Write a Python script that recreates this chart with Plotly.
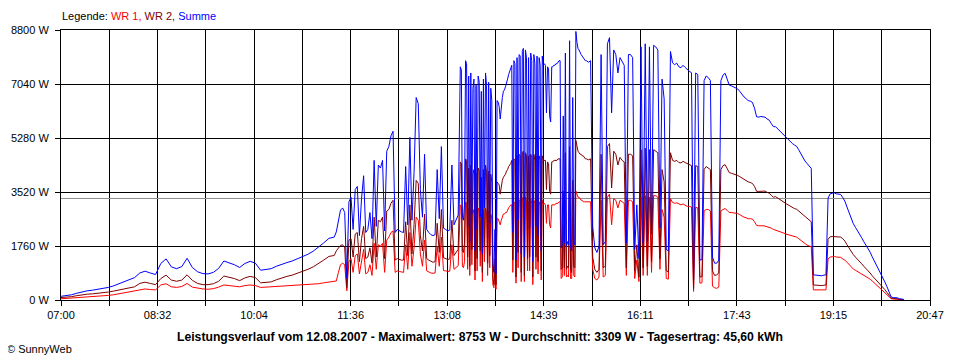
import plotly.graph_objects as go

# ---------------- chart values ----------------
CHART_DATE = "12.08.2007"
MAX_WATT = 8753
AVG_WATT = 3309
DAY_YIELD = "45,60"

X_LABELS = ["07:00", "08:32", "10:04", "11:36", "13:08", "14:39",
            "16:11", "17:43", "19:15", "20:47"]
Y_TICKS = [0, 1760, 3520, 5280, 7040, 8800]

SERIES_NAMES = ["WR 1", "WR 2", "Summe"]
SERIES_COLORS = ["#FF0000", "#800000", "#0000FF"]

# morning, 5-minute readings from 07:00
WR1_0700 = [40, 50, 60, 80, 100, 110, 120, 130, 140, 150, 170, 200, 230, 270, 300,
            340, 360, 340, 330, 490, 530, 430, 410, 440, 540, 420, 380, 360, 350, 370,
            420, 490, 470, 450, 430, 470, 490, 470, 410, 420, 430, 440, 450, 450, 460,
            470, 480, 490, 510, 530, 560, 590]
WR2_0700 = [80, 90, 110, 140, 170, 190, 200, 215, 230, 260, 290, 330, 370, 400, 430,
            540, 580, 540, 500, 700, 810, 650, 610, 650, 820, 640, 540, 500, 500, 530,
            610, 780, 740, 700, 630, 720, 770, 730, 560, 570, 590, 660, 720, 770, 810,
            870, 940, 1000, 1080, 1180, 1300, 1420]

# 2-minute readings
WR1_1120 = [600, 620, 900, 1150, 1200, 1150, 300, 1250, 1350, 900, 1450, 1500, 850, 1300, 1650,
            850, 900, 1150, 800, 1850, 1000, 1800, 1750, 1850, 900, 1950, 2050, 2200, 2250, 900]
WR2_1120 = [1450, 1600, 1700, 1780, 1800, 1700, 400, 1950, 2000, 1400, 2150, 2200, 1250, 2000, 2400,
            1350, 1400, 1700, 1200, 2700, 1400, 2600, 2550, 2700, 1350, 2900, 2950, 3150, 3250, 1300]

WR1_1220 = [950, 930, 920, 900, 1800, 1000, 2200, 1100, 1700, 2700, 2600, 1500, 1100, 1950, 950,
            900, 880, 870, 880, 1750, 1100, 2050, 960, 950, 930, 940, 1800, 1000, 1050, 1120]
WR2_1220 = [1350, 1320, 1300, 1300, 2550, 1450, 3100, 1500, 2450, 3900, 3800, 2100, 1600, 2800, 1350,
            1300, 1250, 1230, 1250, 2500, 1550, 2950, 1380, 1350, 1320, 1340, 2600, 1450, 1550, 1650]

# 1-minute readings (densest part of the day)
WR1_1320 = [3100, 3050, 1100, 1050, 1250, 3200, 3150, 1000, 3000, 800,
            3000, 1150, 2800, 2950, 650, 2850, 950, 3000, 2900, 1100,
            2800, 600, 2950, 1250, 3000, 2850, 800, 2900, 1050, 2800,
            2650, 500, 400, 950, 350, 2650, 2650, 2550, 2450, 2600,
            2700, 2800, 2800, 2850, 2850, 2950, 3000, 3050, 3100, 3100,
            900, 3200, 3150, 550, 3200, 1050, 3250, 3250, 600, 3300]
WR2_1320 = [4500, 4450, 1600, 1550, 1850, 4600, 4550, 1400, 4300, 1100,
            4400, 1650, 4100, 4250, 950, 4150, 1350, 4300, 4200, 1600,
            4000, 900, 4250, 1750, 4400, 4150, 1200, 4200, 1450, 4100,
            3850, 700, 500, 1350, 500, 3850, 3800, 3750, 3450, 3750,
            3900, 4000, 4050, 4100, 4200, 4250, 4350, 4400, 4450, 4550,
            1300, 4600, 4550, 750, 4700, 1550, 4750, 4700, 900, 4800]

WR1_1420 = [3350, 600, 3350, 3200, 950, 3200, 950, 3300, 3150, 500,
            3250, 3150, 1000, 3250, 850, 3200, 3100, 650, 3250, 3100,
            3150, 3100, 2500, 3100, 3100, 2450, 2350, 3100, 3100, 3100,
            3100, 3150, 3150, 3150, 3200, 3200, 700, 750, 2450, 800,
            3250, 750, 800, 750, 3450, 700, 700, 2700, 800, 750,
            3553, 3450, 3350, 3350, 3300, 3250, 3250, 3200, 3200, 3200]
WR2_1420 = [4850, 800, 4800, 4700, 1350, 4700, 1400, 4750, 4650, 750,
            4750, 4550, 1400, 4700, 1250, 4700, 4550, 950, 4700, 4550,
            4550, 4550, 3600, 4500, 4450, 3550, 3450, 4500, 4500, 4550,
            4550, 4550, 4550, 4600, 4600, 4600, 1000, 1050, 3550, 1050,
            4800, 1000, 1100, 1050, 5000, 1000, 900, 3900, 1100, 1050,
            5200, 4950, 4850, 4800, 4750, 4750, 4700, 4700, 4650, 4600]

# 2-minute readings
WR1_1520 = [3200, 3180, 3200, 1000, 700, 650, 750, 3250, 750, 800, 3350, 3450, 2450, 3300, 3250,
            3000, 3250, 3200, 3150, 800, 3250, 3250, 3200, 700, 1300, 600, 3350, 800, 3400, 800]
WR2_1520 = [4600, 4570, 4600, 1400, 1000, 900, 1000, 4750, 1050, 1100, 5000, 5100, 3650, 4850, 4750,
            4400, 4650, 4550, 4500, 1050, 4750, 4750, 4700, 950, 1800, 750, 4900, 1050, 4950, 1100]

WR1_1620 = [3350, 900, 3400, 3400, 3350, 1000, 2950, 2700, 700, 680, 3300, 3180, 3150, 3170, 3120,
            3100, 3130, 3100, 3050, 3050, 3030, 280, 3020, 3000, 550, 560, 2900, 2950, 2950, 2900]
WR2_1620 = [4900, 1250, 4900, 4850, 4800, 1350, 4250, 3850, 950, 920, 4800, 4550, 4520, 4550, 4480,
            4470, 4520, 4480, 4450, 4400, 4380, 370, 4380, 4350, 750, 760, 4250, 4350, 4300, 4250]

WR1_1720 = [450, 400, 380, 420, 2900, 2950, 2980, 2920, 2850, 2850, 2840, 2830, 2820, 2780, 2730,
            2700, 2680, 2650, 2650, 2640, 2550, 2430, 2420, 2430, 2420, 2410, 2390, 2380, 2340, 2300]
WR2_1720 = [950, 800, 820, 880, 4250, 4380, 4410, 4250, 4150, 4130, 4110, 4090, 4060, 4020, 3970,
            3920, 3880, 3850, 3830, 3800, 3700, 3540, 3540, 3550, 3550, 3550, 3510, 3480, 3410, 3350]

WR1_1820 = [2280, 2260, 2240, 2210, 2180, 2150, 2130, 2110, 2090, 2070, 2050, 2000, 1940, 1880, 1830,
            1790, 1760, 1740, 330, 330, 320, 330, 320, 330, 330, 1340, 1400, 1410, 1420, 1400]
WR2_1820 = [3370, 3320, 3260, 3220, 3190, 3140, 3100, 3060, 3010, 2980, 2960, 2900, 2830, 2760, 2700,
            2660, 2600, 2550, 490, 480, 480, 480, 470, 480, 490, 1980, 2060, 2070, 2070, 2060]

WR1_1920 = [1400, 1390, 1340, 1300, 1230, 1150, 1080, 1010, 970, 930, 900, 850, 800, 760, 730,
            680, 620, 560, 500, 440, 380, 320, 250, 190, 110, 40, 30, 30, 30, 15, 10, 10]
WR2_1920 = [2060, 2050, 2000, 1920, 1800, 1680, 1580, 1480, 1400, 1330, 1280, 1180, 1100, 1030, 980,
            880, 790, 720, 640, 570, 490, 420, 340, 250, 150, 60, 50, 50, 40, 25, 20, 10]

# (start time, minutes between readings, WR 1, WR 2)
BLOCKS = [
    ("07:00", 5, WR1_0700, WR2_0700),
    ("11:20", 2, WR1_1120, WR2_1120),
    ("12:20", 2, WR1_1220, WR2_1220),
    ("13:20", 1, WR1_1320, WR2_1320),
    ("14:20", 1, WR1_1420, WR2_1420),
    ("15:20", 2, WR1_1520, WR2_1520),
    ("16:20", 2, WR1_1620, WR2_1620),
    ("17:20", 2, WR1_1720, WR2_1720),
    ("18:20", 2, WR1_1820, WR2_1820),
    ("19:20", 2, WR1_1920, WR2_1920),
]


def to_min(s):
    h, m = s.split(":")
    return int(h) * 60 + int(m)


times, wr1, wr2 = [], [], []
for start, step, a, b in BLOCKS:
    assert len(a) == len(b), start
    t0 = to_min(start)
    for i, (v1, v2) in enumerate(zip(a, b)):
        times.append(t0 + i * step)
        wr1.append(v1)
        wr2.append(v2)
summe = [a + b for a, b in zip(wr1, wr2)]

# ---------------- figure ----------------
# the page body has an 8 px default margin, so the figure is laid out
# in page coordinates shifted by that amount
BODY = 8
W, H = 960 - BODY, 360 - BODY
PLOT_L, PLOT_R, PLOT_T, PLOT_B = 61, 930, 30, 300   # page pixels
ML, MT = PLOT_L - BODY, PLOT_T - BODY
MR = W - (PLOT_R - BODY)
MB = H - (PLOT_B - BODY)
PW, PH = PLOT_R - PLOT_L, PLOT_B - PLOT_T


def px(x):
    return (x - PLOT_L) / PW


def py(y):
    return (PLOT_B - y) / PH


x0, x1 = to_min(X_LABELS[0]), to_min(X_LABELS[-1])
n = 2 * (len(X_LABELS) - 1)
xtickvals = [x0 + i * (x1 - x0) / n for i in range(n + 1)]
xticktext = [X_LABELS[i // 2] if i % 2 == 0 else "" for i in range(n + 1)]

FONT = "Liberation Sans, Arial, sans-serif"

fig = go.Figure()
fig.add_trace(go.Scatter(x=[x0, x1], y=[AVG_WATT, AVG_WATT], mode="lines",
                         line=dict(color="#8C8C8C", width=1), showlegend=False,
                         hoverinfo="skip"))
for name, color, vals in zip(SERIES_NAMES, SERIES_COLORS, [wr1, wr2, summe]):
    fig.add_trace(go.Scatter(x=times, y=vals, mode="lines", name=name,
                             line=dict(color=color, width=1), showlegend=False))

axis_common = dict(showgrid=True, gridcolor="black", gridwidth=1, zeroline=False,
                   showline=True, linecolor="black", linewidth=1, mirror=True,
                   ticks="outside", ticklen=5, tickcolor="black", tickwidth=1,
                   tickfont=dict(family=FONT, size=11, color="black"))

fig.update_layout(
    width=W, height=H,
    margin=dict(l=ML, r=MR, t=MT, b=MB, autoexpand=False),
    paper_bgcolor="white", plot_bgcolor="white",
    font=dict(family=FONT, size=11, color="black"),
    hovermode=False,
    xaxis=dict(range=[x0, x1], tickmode="array", tickvals=xtickvals, ticktext=xticktext,
               **axis_common),
    yaxis=dict(range=[0, Y_TICKS[-1]], tickmode="array", tickvals=Y_TICKS,
               ticktext=[f"{v} W" for v in Y_TICKS], ticklabelstandoff=4,
               **axis_common),
)

legend_text = ("Legende: "
               f'<span style="color:{SERIES_COLORS[0]}">{SERIES_NAMES[0]},</span> '
               f'<span style="color:{SERIES_COLORS[1]}">{SERIES_NAMES[1]},</span> '
               f'<span style="color:{SERIES_COLORS[2]}">{SERIES_NAMES[2]}</span>')

title_text = (f"<b>Leistungsverlauf vom {CHART_DATE} - Maximalwert: {MAX_WATT} W - "
              f"Durchschnitt: {AVG_WATT} W - Tagesertrag: {DAY_YIELD} kWh</b>")

fig.add_annotation(text=legend_text, xref="paper", yref="paper", x=px(60), y=py(16.5),
                   xanchor="left", yanchor="middle", showarrow=False,
                   font=dict(family=FONT, size=11, color="black"))
fig.add_annotation(text=title_text, xref="paper", yref="paper", x=px(480), y=py(336.5),
                   xanchor="center", yanchor="middle", showarrow=False,
                   font=dict(family=FONT, size=12.2, color="black"))
fig.add_annotation(text="© SunnyWeb", xref="paper", yref="paper", x=px(5), y=py(349),
                   xanchor="left", yanchor="middle", showarrow=False,
                   font=dict(family=FONT, size=11, color="black"))

fig.write_html("out.html")
